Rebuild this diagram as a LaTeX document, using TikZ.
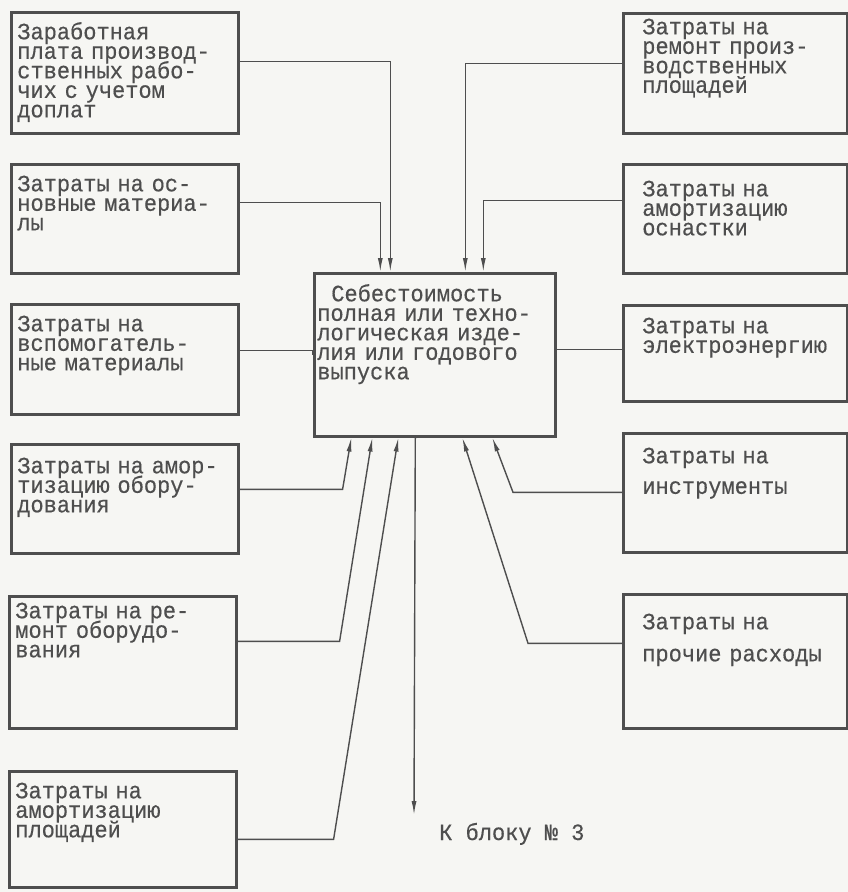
\documentclass[tikz,border=0pt]{standalone}
\usepackage{fontspec}
\newfontfamily\tw[FakeStretch=0.94,FakeBold=0.4]{Liberation Mono}
\newcommand\twfont{\tw\fontsize{23.4}{19.5}\selectfont\lineskiplimit=-20pt\relax}
\usetikzlibrary{arrows.meta}
\definecolor{ink}{RGB}{78,78,78}
\definecolor{paper}{RGB}{246,246,243}

\begin{document}
\begin{tikzpicture}[x=1pt,y=-1pt,>={Latex[length=14pt,width=5pt]},
  cell/.style 2 args={draw=ink, line width=2.6pt, anchor=north west, inner ysep=0pt,
    align=left, text=ink, font=\twfont, text height=#1, text depth=#2},
  lbox/.style 2 args={cell={#1}{#2}, text width=215pt, inner xsep=6pt},
  rbox/.style 2 args={cell={#1}{#2}, text width=186pt, inner xsep=19pt},
  wire/.style={draw=ink, line width=1.4pt}]
  \fill[paper] (0,0) rectangle (848,892);
  \useasboundingbox (0,0) rectangle (848,892);

  \node[cell={28pt}{135pt}, text width=235pt, inner xsep=3pt] (C) at (313,272)
    {\hspace*{14pt}Себестоимость\\полная или техно-\\логическая изде-\\лия или годового\\выпуска};

  \node[lbox={27pt}{94pt}] (L1) at (10,11)
    {Заработная\\плата производ-\\ственных рабо-\\чих с учетом\\доплат};
  \node[lbox={27pt}{82pt}] (L2) at (10,163) {Затраты на ос-\\новные материа-\\лы};
  \node[lbox={27pt}{83pt}] (L3) at (10,303) {Затраты на\\вспомогатель-\\ные материалы};
  \node[lbox={29pt}{80pt}] (L4) at (10,443) {Затраты на амор-\\тизацию обору-\\дования};
  \node[lbox={22pt}{110pt}] (L5) at (8,595) {Затраты на ре-\\монт оборудо-\\вания};
  \node[lbox={27pt}{89pt}] (L6) at (8,770) {Затраты на\\амортизацию\\площадей};

  \node[rbox={21pt}{99pt}] (R1) at (622,12) {Затраты на\\ремонт произ-\\водственных\\площадей};
  \node[rbox={32pt}{77pt}] (R2) at (622,163) {Затраты на\\амортизацию\\оснастки};
  \node[rbox={28pt}{68pt}] (R3) at (622,304) {Затраты на\\электроэнергию};
  \node[rbox={30pt}{89pt}] (R4) at (622,432) {Затраты на\\[11pt]инструменты};
  \node[rbox={35pt}{99pt}] (R5) at (622,593) {Затраты на\\[12.5pt]прочие расходы};

  \draw[wire,->] ([yshift=11.5pt]L1.east) -| ([xshift=-44.5pt]C.north);
  \draw[wire,->] ([yshift=16.5pt]L2.east) -| ([xshift=-54.5pt]C.north);
  \draw[wire,->] ([yshift=10pt]R1.west) -| ([xshift=30.5pt]C.north);
  \draw[wire,->] ([yshift=18.5pt]R2.west) -| ([xshift=48.5pt]C.north);
  \draw[wire] ([yshift=9pt]L3.east) -| (C.west);
  \draw[wire] ([yshift=4pt]R3.west) -| (C.east);
  \draw[wire,->] ([yshift=9.5pt]L4.east) -- ++(103,0) -- ([xshift=-83.5pt]C.south);
  \draw[wire,->] ([yshift=21pt]L5.east) -- ++(102,0) -- ([xshift=-62.5pt]C.south);
  \draw[wire,->] ([yshift=-10pt]L6.east) -- ++(96,0) -- ([xshift=-36.5pt]C.south);
  \draw[wire,->] ([yshift=0.5pt]R4.west) -- ++(-109,0) -- ([xshift=57.5pt]C.south);
  \draw[wire,->] ([yshift=18pt]R5.west) -- ++(-94,0) -- ([xshift=27.5pt]C.south);

  \coordinate (blk3) at (414,815);
  \draw[wire,->] ([xshift=-19.5pt]C.south) -- (blk3);
  \node[anchor=base west, text=ink, inner sep=0pt, font=\twfont]
    (K) at (439,840) {К блоку № 3};
\end{tikzpicture}
\end{document}
